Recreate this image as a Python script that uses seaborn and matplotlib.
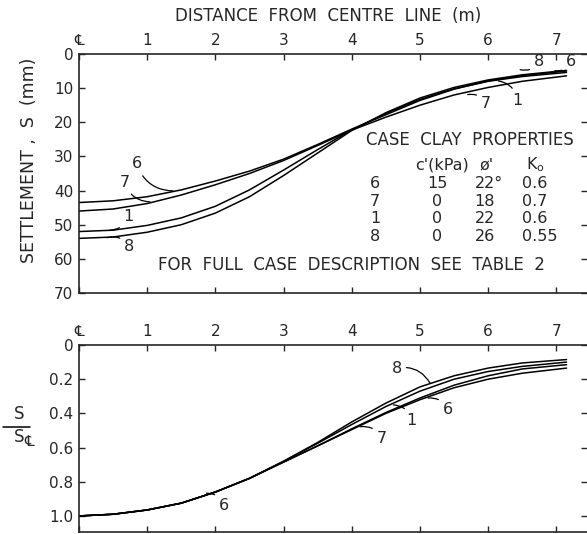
import matplotlib
matplotlib.use("Agg")
import matplotlib.pyplot as plt
from matplotlib.lines import Line2D
import pandas as pd
import seaborn as sns

# -----------------------------
# Data
# -----------------------------
distance = [0, 0.5, 1, 1.5, 2, 2.5, 3, 3.5, 4, 4.5, 5, 5.5, 6, 6.5, 7.15]

# settlement S (mm)
settle_6 = [43.5, 43.0, 41.8, 39.8, 37.2, 34.3, 30.8, 26.5, 22.0, 17.8, 13.6, 10.3, 7.9, 6.3, 5.0]
settle_7 = [46.0, 45.4, 43.8, 41.3, 38.3, 35.0, 31.2, 26.8, 22.3, 18.5, 15.0, 12.0, 9.8, 8.0, 6.4]
settle_1 = [52.0, 51.6, 50.2, 48.0, 44.6, 39.8, 34.0, 28.0, 22.2, 17.4, 13.3, 10.2, 8.0, 6.6, 5.4]
settle_8 = [54.0, 53.6, 52.2, 50.0, 46.6, 41.8, 35.6, 29.0, 22.4, 17.2, 12.9, 9.8, 7.6, 6.1, 4.8]

# normalised settlement S / S_CL
norm_6 = [1.0, 0.99, 0.965, 0.925, 0.86, 0.78, 0.685, 0.59, 0.49, 0.395, 0.31, 0.235, 0.18, 0.14, 0.115]
norm_7 = [1.0, 0.99, 0.965, 0.925, 0.86, 0.78, 0.685, 0.59, 0.495, 0.40, 0.32, 0.25, 0.20, 0.165, 0.135]
norm_1 = [1.0, 0.99, 0.965, 0.925, 0.86, 0.78, 0.68, 0.575, 0.465, 0.36, 0.27, 0.20, 0.155, 0.125, 0.10]
norm_8 = [1.0, 0.99, 0.965, 0.925, 0.86, 0.78, 0.68, 0.57, 0.45, 0.34, 0.245, 0.18, 0.135, 0.105, 0.085]

cases = ["6", "7", "1", "8"]
c_kpa = ["15", "0", "0", "0"]
phi_deg = ["22°", "18", "22", "26"]
k_zero = ["0.6", "0.7", "0.6", "0.55"]

x_ticks = [0, 1, 2, 3, 4, 5, 6, 7]
x_tick_labels = ["℄", "1", "2", "3", "4", "5", "6", "7"]
top_y_ticks = [0, 10, 20, 30, 40, 50, 60, 70]
bot_y_ticks = [0, 0.2, 0.4, 0.6, 0.8, 1.0]
bot_y_labels = ["0", "0.2", "0.4", "0.6", "0.8", "1.0"]

top = pd.DataFrame({
    "distance": distance * 4,
    "value": settle_6 + settle_7 + settle_1 + settle_8,
    "case": sum([[c] * len(distance) for c in cases], []),
})
bot = pd.DataFrame({
    "distance": distance * 4,
    "value": norm_6 + norm_7 + norm_1 + norm_8,
    "case": sum([[c] * len(distance) for c in cases], []),
})

# -----------------------------
# Figure
# -----------------------------
sns.set_style("ticks")
plt.rcParams["font.family"] = ["DejaVu Sans"]
plt.rcParams["mathtext.fontset"] = "dejavusans"

W, H = 587, 534
fig = plt.figure(figsize=(W / 100, H / 100), dpi=100)
ax1 = fig.add_axes([0.1346, 0.4513, 0.8654, 0.4476])
ax2 = fig.add_axes([0.1346, 0.0037, 0.8654, 0.3502])

black = {c: "black" for c in cases}
sns.lineplot(data=top, x="distance", y="value", hue="case", palette=black,
             legend=False, ax=ax1, linewidth=1.1, sort=False, estimator=None)
sns.lineplot(data=bot, x="distance", y="value", hue="case", palette=black,
             legend=False, ax=ax2, linewidth=1.1, sort=False, estimator=None)

for ax in (ax1, ax2):
    ax.set_xlim(0, 7.45)
    ax.set_xticks(x_ticks)
    ax.set_xticklabels(x_tick_labels)
    ax.tick_params(direction="in", length=4, width=1, labelsize=11,
                   top=True, labeltop=True, bottom=True, labelbottom=False,
                   left=True, right=True, pad=4)
    ax.spines["right"].set_visible(False)
    for s in ("top", "bottom", "left"):
        ax.spines[s].set_linewidth(1.2)
    ax.set_xlabel("")
    ax.set_ylabel("")

ax1.set_ylim(70, 0)
ax1.set_yticks(top_y_ticks)
ax2.set_ylim(1.094, 0)
ax2.set_yticks(bot_y_ticks)
ax2.set_yticklabels(bot_y_labels)

fig.text(328 / W, 1 - 16 / H, "DISTANCE  FROM  CENTRE  LINE  (m)", ha="center",
         va="center", fontsize=12)
fig.text(28.5 / W, 1 - 160 / H, "SETTLEMENT ,  S  (mm)", rotation=90, ha="center",
         va="center", fontsize=12.5)

# S / S_CL fraction label
fig.text(19 / W, 1 - 414 / H, "S", ha="center", va="center", fontsize=12)
fig.add_artist(Line2D([3 / W, 30 / W], [1 - 427 / H, 1 - 427 / H], color="black", lw=1.1))
fig.text(19 / W, 1 - 437 / H, "S", ha="center", va="center", fontsize=12)
fig.text(29 / W, 1 - 442 / H, "℄", ha="center", va="center", fontsize=11)

# curve labels with hook leaders
arrow = dict(arrowstyle="-", lw=0.9, color="black", shrinkA=1, shrinkB=0,
             connectionstyle="arc3,rad=-0.35")
arrow_r = dict(arrow, connectionstyle="arc3,rad=0.35")

top_labels = [
    ("6", (1.38, 40.1), (0.85, 32.2), arrow_r),
    ("7", (1.04, 43.3), (0.67, 37.6), arrow_r),
    ("1", (0.45, 51.6), (0.72, 47.5), arrow),
    ("8", (0.41, 53.8), (0.74, 56.4), arrow_r),
    ("8", (6.47, 4.6), (6.75, 2.2), arrow),
    ("6", (6.98, 4.9), (7.22, 2.2), arrow),
    ("1", (6.15, 7.9), (6.43, 13.5), arrow_r),
    ("7", (5.70, 11.9), (5.97, 14.5), arrow_r),
]
for txt, xy, xyt, ap in top_labels:
    ax1.annotate(txt, xy=xy, xytext=xyt, ha="center", va="center",
                 fontsize=11.5, arrowprops=ap)

bot_labels = [
    ("6", (1.87, 0.867), (2.13, 0.94), arrow_r),
    ("8", (5.15, 0.224), (4.66, 0.136), arrow),
    ("6", (5.12, 0.31), (5.41, 0.38), arrow_r),
    ("1", (4.61, 0.35), (4.88, 0.44), arrow_r),
    ("7", (4.12, 0.478), (4.44, 0.546), arrow_r),
]
for txt, xy, xyt, ap in bot_labels:
    ax2.annotate(txt, xy=xy, xytext=xyt, ha="center", va="center",
                 fontsize=11.5, arrowprops=ap)

# clay properties table
fs = 11.5
ax1.text(5.73, 25.3, "CASE  CLAY  PROPERTIES", ha="center", va="center", fontsize=12)
ax1.text(5.32, 32.5, "c'(kPa)", ha="center", va="center", fontsize=fs)
ax1.text(5.97, 32.5, "ø'", ha="center", va="center", fontsize=fs)
ax1.text(6.69, 32.5, r"K$_\mathrm{o}$", ha="center", va="center", fontsize=fs)
row_y = [37.9, 43.1, 48.3, 53.5]
for i, c in enumerate(cases):
    ax1.text(4.34, row_y[i], c, ha="center", va="center", fontsize=fs)
    ax1.text(5.25, row_y[i], c_kpa[i], ha="center", va="center", fontsize=fs)
    ax1.text(5.80, row_y[i], phi_deg[i], ha="left", va="center", fontsize=fs)
    ax1.text(6.49, row_y[i], k_zero[i], ha="left", va="center", fontsize=fs)
ax1.text(4.0, 61.8, "FOR  FULL  CASE  DESCRIPTION  SEE  TABLE  2", ha="center",
         va="center", fontsize=12)

fig.savefig("out.png", dpi=100)
